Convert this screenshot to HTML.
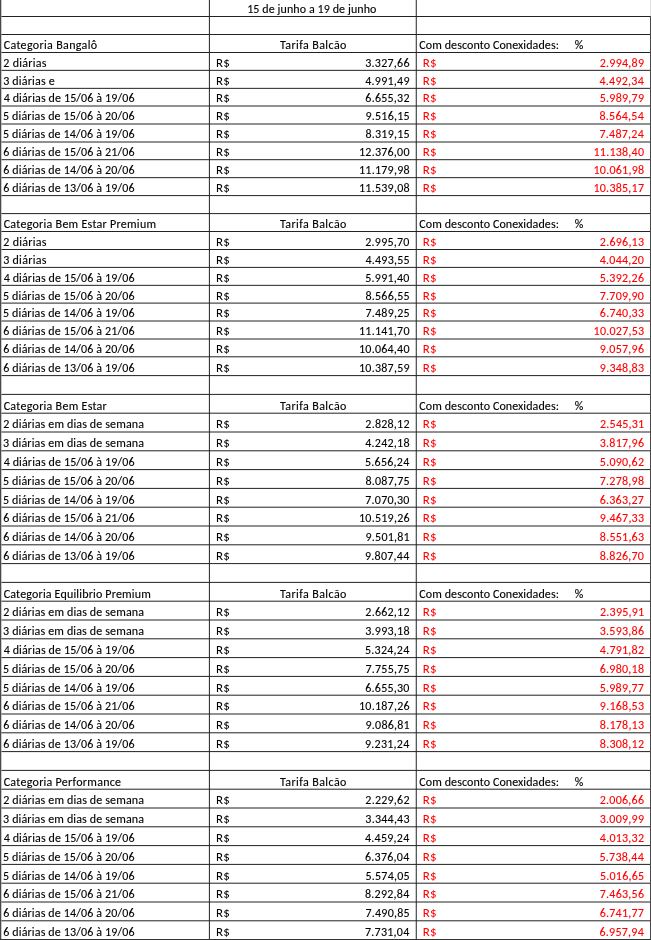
<!DOCTYPE html>
<html><head><meta charset="utf-8"><title>Tarifas</title><style>
html,body{margin:0;padding:0;background:#fff;width:651px;height:940px;overflow:hidden}
svg{display:block;position:absolute;left:0;top:0;will-change:transform}
text{font-family:Carlito,"Liberation Sans",sans-serif;font-size:12.0px;fill:#000;stroke:#000;stroke-width:0.12px}
.r{fill:#f00;stroke:#f00}.s{stroke-width:0}.e{text-anchor:end}.m{text-anchor:middle}
</style></head><body>
<svg width="651" height="940" viewBox="0 0 651 940">
<g stroke="#222" stroke-width="1"><line x1="0" y1="16.5" x2="651" y2="16.5"/><line x1="0" y1="34.5" x2="651" y2="34.5"/><line x1="0" y1="52.5" x2="651" y2="52.5"/><line x1="0" y1="70.35" x2="651" y2="70.35"/><line x1="0" y1="88.35" x2="651" y2="88.35"/><line x1="0" y1="106.0" x2="651" y2="106.0"/><line x1="0" y1="124.0" x2="651" y2="124.0"/><line x1="0" y1="142.0" x2="651" y2="142.0"/><line x1="0" y1="159.7" x2="651" y2="159.7"/><line x1="0" y1="177.65" x2="651" y2="177.65"/><line x1="0" y1="195.6" x2="651" y2="195.6"/><line x1="0" y1="213.6" x2="651" y2="213.6"/><line x1="0" y1="231.5" x2="651" y2="231.5"/><line x1="0" y1="249.5" x2="651" y2="249.5"/><line x1="0" y1="267.4" x2="651" y2="267.4"/><line x1="0" y1="285.35" x2="651" y2="285.35"/><line x1="0" y1="303.1" x2="651" y2="303.1"/><line x1="0" y1="321.0" x2="651" y2="321.0"/><line x1="0" y1="339.0" x2="651" y2="339.0"/><line x1="0" y1="356.8" x2="651" y2="356.8"/><line x1="0" y1="375.6" x2="651" y2="375.6"/><line x1="0" y1="394.4" x2="651" y2="394.4"/><line x1="0" y1="413.2" x2="651" y2="413.2"/><line x1="0" y1="432.0" x2="651" y2="432.0"/><line x1="0" y1="450.8" x2="651" y2="450.8"/><line x1="0" y1="469.6" x2="651" y2="469.6"/><line x1="0" y1="488.4" x2="651" y2="488.4"/><line x1="0" y1="507.2" x2="651" y2="507.2"/><line x1="0" y1="526.0" x2="651" y2="526.0"/><line x1="0" y1="544.8" x2="651" y2="544.8"/><line x1="0" y1="563.6" x2="651" y2="563.6"/><line x1="0" y1="582.4" x2="651" y2="582.4"/><line x1="0" y1="601.2" x2="651" y2="601.2"/><line x1="0" y1="620.0" x2="651" y2="620.0"/><line x1="0" y1="638.8" x2="651" y2="638.8"/><line x1="0" y1="657.6" x2="651" y2="657.6"/><line x1="0" y1="676.4" x2="651" y2="676.4"/><line x1="0" y1="695.2" x2="651" y2="695.2"/><line x1="0" y1="714.0" x2="651" y2="714.0"/><line x1="0" y1="732.8" x2="651" y2="732.8"/><line x1="0" y1="751.6" x2="651" y2="751.6"/><line x1="0" y1="770.4" x2="651" y2="770.4"/><line x1="0" y1="789.2" x2="651" y2="789.2"/><line x1="0" y1="808.0" x2="651" y2="808.0"/><line x1="0" y1="826.8" x2="651" y2="826.8"/><line x1="0" y1="845.6" x2="651" y2="845.6"/><line x1="0" y1="864.4" x2="651" y2="864.4"/><line x1="0" y1="883.2" x2="651" y2="883.2"/><line x1="0" y1="902.0" x2="651" y2="902.0"/><line x1="0" y1="920.8" x2="651" y2="920.8"/><line x1="209.4" y1="0" x2="209.4" y2="940"/><line x1="416.25" y1="0" x2="416.25" y2="940"/></g>
<rect x="0" y="0" width="1" height="940" fill="#484848"/><rect x="1" y="0" width="1" height="940" fill="#a8a8a8" opacity="0.6"/>
<rect x="650" y="0" width="1" height="16" fill="#e0e0e0"/><rect x="650" y="16" width="1" height="924" fill="#484848"/>
<rect x="0" y="939" width="651" height="1" fill="#333"/>
<text class="m" x="311.77" y="12.9" textLength="129.25" lengthAdjust="spacing">15 de junho a 19 de junho</text>
<text x="3.7" y="48.9" textLength="93.38" lengthAdjust="spacing">Categoria Bangalô</text>
<text class="m" x="313.13" y="48.9" textLength="66.45" lengthAdjust="spacing">Tarifa Balcão</text>
<text x="419.3" y="48.9" textLength="139.62" lengthAdjust="spacing">Com desconto Conexidades:</text>
<text x="574.84" y="48.9" textLength="9.74" lengthAdjust="spacing">%</text>
<text x="3.36" y="66.75" textLength="43.04" lengthAdjust="spacing">2 diárias</text>
<text class="s" x="216.08" y="66.75" textLength="13.65" lengthAdjust="spacingAndGlyphs">R$</text>
<text class="e" x="409.49" y="66.75" textLength="44.2" lengthAdjust="spacing">3.327,66</text>
<text class="r s" x="422.88" y="66.75" textLength="13.65" lengthAdjust="spacingAndGlyphs">R$</text>
<text class="r e" x="643.99" y="66.75" textLength="44.2" lengthAdjust="spacing">2.994,89</text>
<text x="3.14" y="84.75" textLength="51.55" lengthAdjust="spacing">3 diárias e</text>
<text class="s" x="216.08" y="84.75" textLength="13.65" lengthAdjust="spacingAndGlyphs">R$</text>
<text class="e" x="409.49" y="84.75" textLength="44.2" lengthAdjust="spacing">4.991,49</text>
<text class="r s" x="422.88" y="84.75" textLength="13.65" lengthAdjust="spacingAndGlyphs">R$</text>
<text class="r e" x="643.74" y="84.75" textLength="44.2" lengthAdjust="spacing">4.492,34</text>
<text x="3.64" y="102.4" textLength="130.89" lengthAdjust="spacing">4 diárias de 15/06 à 19/06</text>
<text class="s" x="216.08" y="102.4" textLength="13.65" lengthAdjust="spacingAndGlyphs">R$</text>
<text class="e" x="409.52" y="102.4" textLength="44.2" lengthAdjust="spacing">6.655,32</text>
<text class="r s" x="422.88" y="102.4" textLength="13.65" lengthAdjust="spacingAndGlyphs">R$</text>
<text class="r e" x="643.99" y="102.4" textLength="44.2" lengthAdjust="spacing">5.989,79</text>
<text x="2.98" y="120.4" textLength="131.55" lengthAdjust="spacing">5 diárias de 15/06 à 20/06</text>
<text class="s" x="216.08" y="120.4" textLength="13.65" lengthAdjust="spacingAndGlyphs">R$</text>
<text class="e" x="409.62" y="120.4" textLength="44.2" lengthAdjust="spacing">9.516,15</text>
<text class="r s" x="422.88" y="120.4" textLength="13.65" lengthAdjust="spacingAndGlyphs">R$</text>
<text class="r e" x="643.74" y="120.4" textLength="44.2" lengthAdjust="spacing">8.564,54</text>
<text x="2.98" y="138.4" textLength="131.55" lengthAdjust="spacing">5 diárias de 14/06 à 19/06</text>
<text class="s" x="216.08" y="138.4" textLength="13.65" lengthAdjust="spacingAndGlyphs">R$</text>
<text class="e" x="409.62" y="138.4" textLength="44.2" lengthAdjust="spacing">8.319,15</text>
<text class="r s" x="422.88" y="138.4" textLength="13.65" lengthAdjust="spacingAndGlyphs">R$</text>
<text class="r e" x="643.74" y="138.4" textLength="44.2" lengthAdjust="spacing">7.487,24</text>
<text x="3.25" y="156.1" textLength="131.28" lengthAdjust="spacing">6 diárias de 15/06 à 21/06</text>
<text class="s" x="216.08" y="156.1" textLength="13.65" lengthAdjust="spacingAndGlyphs">R$</text>
<text class="e" x="409.51" y="156.1" textLength="50.53" lengthAdjust="spacing">12.376,00</text>
<text class="r s" x="422.88" y="156.1" textLength="13.65" lengthAdjust="spacingAndGlyphs">R$</text>
<text class="r e" x="644.01" y="156.1" textLength="50.53" lengthAdjust="spacing">11.138,40</text>
<text x="3.25" y="174.05" textLength="131.28" lengthAdjust="spacing">6 diárias de 14/06 à 20/06</text>
<text class="s" x="216.08" y="174.05" textLength="13.65" lengthAdjust="spacingAndGlyphs">R$</text>
<text class="e" x="409.58" y="174.05" textLength="50.53" lengthAdjust="spacing">11.179,98</text>
<text class="r s" x="422.88" y="174.05" textLength="13.65" lengthAdjust="spacingAndGlyphs">R$</text>
<text class="r e" x="644.08" y="174.05" textLength="50.53" lengthAdjust="spacing">10.061,98</text>
<text x="3.25" y="192" textLength="131.28" lengthAdjust="spacing">6 diárias de 13/06 à 19/06</text>
<text class="s" x="216.08" y="192" textLength="13.65" lengthAdjust="spacingAndGlyphs">R$</text>
<text class="e" x="409.58" y="192" textLength="50.53" lengthAdjust="spacing">11.539,08</text>
<text class="r s" x="422.88" y="192" textLength="13.65" lengthAdjust="spacingAndGlyphs">R$</text>
<text class="r e" x="644" y="192" textLength="50.53" lengthAdjust="spacing">10.385,17</text>
<text x="3.7" y="227.9" textLength="152.36" lengthAdjust="spacing">Categoria Bem Estar Premium</text>
<text class="m" x="313.13" y="227.9" textLength="66.45" lengthAdjust="spacing">Tarifa Balcão</text>
<text x="419.3" y="227.9" textLength="139.62" lengthAdjust="spacing">Com desconto Conexidades:</text>
<text x="574.84" y="227.9" textLength="9.74" lengthAdjust="spacing">%</text>
<text x="3.36" y="245.9" textLength="43.04" lengthAdjust="spacing">2 diárias</text>
<text class="s" x="216.08" y="245.9" textLength="13.65" lengthAdjust="spacingAndGlyphs">R$</text>
<text class="e" x="409.42" y="245.9" textLength="44.2" lengthAdjust="spacing">2.995,70</text>
<text class="r s" x="422.88" y="245.9" textLength="13.65" lengthAdjust="spacingAndGlyphs">R$</text>
<text class="r e" x="644.03" y="245.9" textLength="44.2" lengthAdjust="spacing">2.696,13</text>
<text x="3.14" y="263.8" textLength="43.26" lengthAdjust="spacing">3 diárias</text>
<text class="s" x="216.08" y="263.8" textLength="13.65" lengthAdjust="spacingAndGlyphs">R$</text>
<text class="e" x="409.62" y="263.8" textLength="44.2" lengthAdjust="spacing">4.493,55</text>
<text class="r s" x="422.88" y="263.8" textLength="13.65" lengthAdjust="spacingAndGlyphs">R$</text>
<text class="r e" x="643.92" y="263.8" textLength="44.2" lengthAdjust="spacing">4.044,20</text>
<text x="3.64" y="281.75" textLength="130.89" lengthAdjust="spacing">4 diárias de 15/06 à 19/06</text>
<text class="s" x="216.08" y="281.75" textLength="13.65" lengthAdjust="spacingAndGlyphs">R$</text>
<text class="e" x="409.42" y="281.75" textLength="44.2" lengthAdjust="spacing">5.991,40</text>
<text class="r s" x="422.88" y="281.75" textLength="13.65" lengthAdjust="spacingAndGlyphs">R$</text>
<text class="r e" x="643.99" y="281.75" textLength="44.2" lengthAdjust="spacing">5.392,26</text>
<text x="2.98" y="299.5" textLength="131.55" lengthAdjust="spacing">5 diárias de 15/06 à 20/06</text>
<text class="s" x="216.08" y="299.5" textLength="13.65" lengthAdjust="spacingAndGlyphs">R$</text>
<text class="e" x="409.62" y="299.5" textLength="44.2" lengthAdjust="spacing">8.566,55</text>
<text class="r s" x="422.88" y="299.5" textLength="13.65" lengthAdjust="spacingAndGlyphs">R$</text>
<text class="r e" x="643.92" y="299.5" textLength="44.2" lengthAdjust="spacing">7.709,90</text>
<text x="2.98" y="317.4" textLength="131.55" lengthAdjust="spacing">5 diárias de 14/06 à 19/06</text>
<text class="s" x="216.08" y="317.4" textLength="13.65" lengthAdjust="spacingAndGlyphs">R$</text>
<text class="e" x="409.62" y="317.4" textLength="44.2" lengthAdjust="spacing">7.489,25</text>
<text class="r s" x="422.88" y="317.4" textLength="13.65" lengthAdjust="spacingAndGlyphs">R$</text>
<text class="r e" x="644.03" y="317.4" textLength="44.2" lengthAdjust="spacing">6.740,33</text>
<text x="3.25" y="335.4" textLength="131.28" lengthAdjust="spacing">6 diárias de 15/06 à 21/06</text>
<text class="s" x="216.08" y="335.4" textLength="13.65" lengthAdjust="spacingAndGlyphs">R$</text>
<text class="e" x="409.51" y="335.4" textLength="50.53" lengthAdjust="spacing">11.141,70</text>
<text class="r s" x="422.88" y="335.4" textLength="13.65" lengthAdjust="spacingAndGlyphs">R$</text>
<text class="r e" x="644.12" y="335.4" textLength="50.53" lengthAdjust="spacing">10.027,53</text>
<text x="3.25" y="353.2" textLength="131.28" lengthAdjust="spacing">6 diárias de 14/06 à 20/06</text>
<text class="s" x="216.08" y="353.2" textLength="13.65" lengthAdjust="spacingAndGlyphs">R$</text>
<text class="e" x="409.51" y="353.2" textLength="50.53" lengthAdjust="spacing">10.064,40</text>
<text class="r s" x="422.88" y="353.2" textLength="13.65" lengthAdjust="spacingAndGlyphs">R$</text>
<text class="r e" x="643.99" y="353.2" textLength="44.2" lengthAdjust="spacing">9.057,96</text>
<text x="3.25" y="372" textLength="131.28" lengthAdjust="spacing">6 diárias de 13/06 à 19/06</text>
<text class="s" x="216.08" y="372" textLength="13.65" lengthAdjust="spacingAndGlyphs">R$</text>
<text class="e" x="409.58" y="372" textLength="50.53" lengthAdjust="spacing">10.387,59</text>
<text class="r s" x="422.88" y="372" textLength="13.65" lengthAdjust="spacingAndGlyphs">R$</text>
<text class="r e" x="644.03" y="372" textLength="44.2" lengthAdjust="spacing">9.348,83</text>
<text x="3.7" y="409.6" textLength="103.11" lengthAdjust="spacing">Categoria Bem Estar</text>
<text class="m" x="313.13" y="409.6" textLength="66.45" lengthAdjust="spacing">Tarifa Balcão</text>
<text x="419.3" y="409.6" textLength="139.62" lengthAdjust="spacing">Com desconto Conexidades:</text>
<text x="574.84" y="409.6" textLength="9.74" lengthAdjust="spacing">%</text>
<text x="3.26" y="428.4" textLength="140.74" lengthAdjust="spacing">2 diárias em dias de semana</text>
<text class="s" x="216.08" y="428.4" textLength="13.65" lengthAdjust="spacingAndGlyphs">R$</text>
<text class="e" x="409.52" y="428.4" textLength="44.2" lengthAdjust="spacing">2.828,12</text>
<text class="r s" x="422.88" y="428.4" textLength="13.65" lengthAdjust="spacingAndGlyphs">R$</text>
<text class="r e" x="644.18" y="428.4" textLength="44.2" lengthAdjust="spacing">2.545,31</text>
<text x="3.04" y="447.2" textLength="140.97" lengthAdjust="spacing">3 diárias em dias de semana</text>
<text class="s" x="216.08" y="447.2" textLength="13.65" lengthAdjust="spacingAndGlyphs">R$</text>
<text class="e" x="409.48" y="447.2" textLength="44.2" lengthAdjust="spacing">4.242,18</text>
<text class="r s" x="422.88" y="447.2" textLength="13.65" lengthAdjust="spacingAndGlyphs">R$</text>
<text class="r e" x="643.99" y="447.2" textLength="44.2" lengthAdjust="spacing">3.817,96</text>
<text x="3.64" y="466" textLength="130.89" lengthAdjust="spacing">4 diárias de 15/06 à 19/06</text>
<text class="s" x="216.08" y="466" textLength="13.65" lengthAdjust="spacingAndGlyphs">R$</text>
<text class="e" x="409.24" y="466" textLength="44.2" lengthAdjust="spacing">5.656,24</text>
<text class="r s" x="422.88" y="466" textLength="13.65" lengthAdjust="spacingAndGlyphs">R$</text>
<text class="r e" x="644.02" y="466" textLength="44.2" lengthAdjust="spacing">5.090,62</text>
<text x="2.98" y="484.8" textLength="131.55" lengthAdjust="spacing">5 diárias de 15/06 à 20/06</text>
<text class="s" x="216.08" y="484.8" textLength="13.65" lengthAdjust="spacingAndGlyphs">R$</text>
<text class="e" x="409.62" y="484.8" textLength="44.2" lengthAdjust="spacing">8.087,75</text>
<text class="r s" x="422.88" y="484.8" textLength="13.65" lengthAdjust="spacingAndGlyphs">R$</text>
<text class="r e" x="643.98" y="484.8" textLength="44.2" lengthAdjust="spacing">7.278,98</text>
<text x="2.98" y="503.6" textLength="131.55" lengthAdjust="spacing">5 diárias de 14/06 à 19/06</text>
<text class="s" x="216.08" y="503.6" textLength="13.65" lengthAdjust="spacingAndGlyphs">R$</text>
<text class="e" x="409.42" y="503.6" textLength="44.2" lengthAdjust="spacing">7.070,30</text>
<text class="r s" x="422.88" y="503.6" textLength="13.65" lengthAdjust="spacingAndGlyphs">R$</text>
<text class="r e" x="643.91" y="503.6" textLength="44.2" lengthAdjust="spacing">6.363,27</text>
<text x="3.25" y="522.4" textLength="131.28" lengthAdjust="spacing">6 diárias de 15/06 à 21/06</text>
<text class="s" x="216.08" y="522.4" textLength="13.65" lengthAdjust="spacingAndGlyphs">R$</text>
<text class="e" x="409.58" y="522.4" textLength="50.53" lengthAdjust="spacing">10.519,26</text>
<text class="r s" x="422.88" y="522.4" textLength="13.65" lengthAdjust="spacingAndGlyphs">R$</text>
<text class="r e" x="644.03" y="522.4" textLength="44.2" lengthAdjust="spacing">9.467,33</text>
<text x="3.25" y="541.2" textLength="131.28" lengthAdjust="spacing">6 diárias de 14/06 à 20/06</text>
<text class="s" x="216.08" y="541.2" textLength="13.65" lengthAdjust="spacingAndGlyphs">R$</text>
<text class="e" x="409.68" y="541.2" textLength="44.2" lengthAdjust="spacing">9.501,81</text>
<text class="r s" x="422.88" y="541.2" textLength="13.65" lengthAdjust="spacingAndGlyphs">R$</text>
<text class="r e" x="644.03" y="541.2" textLength="44.2" lengthAdjust="spacing">8.551,63</text>
<text x="3.25" y="560" textLength="131.28" lengthAdjust="spacing">6 diárias de 13/06 à 19/06</text>
<text class="s" x="216.08" y="560" textLength="13.65" lengthAdjust="spacingAndGlyphs">R$</text>
<text class="e" x="409.24" y="560" textLength="44.2" lengthAdjust="spacing">9.807,44</text>
<text class="r s" x="422.88" y="560" textLength="13.65" lengthAdjust="spacingAndGlyphs">R$</text>
<text class="r e" x="643.92" y="560" textLength="44.2" lengthAdjust="spacing">8.826,70</text>
<text x="3.7" y="597.6" textLength="147.16" lengthAdjust="spacing">Categoria Equilibrio Premium</text>
<text class="m" x="313.13" y="597.6" textLength="66.45" lengthAdjust="spacing">Tarifa Balcão</text>
<text x="419.3" y="597.6" textLength="139.62" lengthAdjust="spacing">Com desconto Conexidades:</text>
<text x="574.84" y="597.6" textLength="9.74" lengthAdjust="spacing">%</text>
<text x="3.26" y="616.4" textLength="140.74" lengthAdjust="spacing">2 diárias em dias de semana</text>
<text class="s" x="216.08" y="616.4" textLength="13.65" lengthAdjust="spacingAndGlyphs">R$</text>
<text class="e" x="409.52" y="616.4" textLength="44.2" lengthAdjust="spacing">2.662,12</text>
<text class="r s" x="422.88" y="616.4" textLength="13.65" lengthAdjust="spacingAndGlyphs">R$</text>
<text class="r e" x="644.18" y="616.4" textLength="44.2" lengthAdjust="spacing">2.395,91</text>
<text x="3.04" y="635.2" textLength="140.97" lengthAdjust="spacing">3 diárias em dias de semana</text>
<text class="s" x="216.08" y="635.2" textLength="13.65" lengthAdjust="spacingAndGlyphs">R$</text>
<text class="e" x="409.48" y="635.2" textLength="44.2" lengthAdjust="spacing">3.993,18</text>
<text class="r s" x="422.88" y="635.2" textLength="13.65" lengthAdjust="spacingAndGlyphs">R$</text>
<text class="r e" x="643.99" y="635.2" textLength="44.2" lengthAdjust="spacing">3.593,86</text>
<text x="3.64" y="654" textLength="130.89" lengthAdjust="spacing">4 diárias de 15/06 à 19/06</text>
<text class="s" x="216.08" y="654" textLength="13.65" lengthAdjust="spacingAndGlyphs">R$</text>
<text class="e" x="409.24" y="654" textLength="44.2" lengthAdjust="spacing">5.324,24</text>
<text class="r s" x="422.88" y="654" textLength="13.65" lengthAdjust="spacingAndGlyphs">R$</text>
<text class="r e" x="644.02" y="654" textLength="44.2" lengthAdjust="spacing">4.791,82</text>
<text x="2.98" y="672.8" textLength="131.55" lengthAdjust="spacing">5 diárias de 15/06 à 20/06</text>
<text class="s" x="216.08" y="672.8" textLength="13.65" lengthAdjust="spacingAndGlyphs">R$</text>
<text class="e" x="409.62" y="672.8" textLength="44.2" lengthAdjust="spacing">7.755,75</text>
<text class="r s" x="422.88" y="672.8" textLength="13.65" lengthAdjust="spacingAndGlyphs">R$</text>
<text class="r e" x="643.98" y="672.8" textLength="44.2" lengthAdjust="spacing">6.980,18</text>
<text x="2.98" y="691.6" textLength="131.55" lengthAdjust="spacing">5 diárias de 14/06 à 19/06</text>
<text class="s" x="216.08" y="691.6" textLength="13.65" lengthAdjust="spacingAndGlyphs">R$</text>
<text class="e" x="409.42" y="691.6" textLength="44.2" lengthAdjust="spacing">6.655,30</text>
<text class="r s" x="422.88" y="691.6" textLength="13.65" lengthAdjust="spacingAndGlyphs">R$</text>
<text class="r e" x="643.91" y="691.6" textLength="44.2" lengthAdjust="spacing">5.989,77</text>
<text x="3.25" y="710.4" textLength="131.28" lengthAdjust="spacing">6 diárias de 15/06 à 21/06</text>
<text class="s" x="216.08" y="710.4" textLength="13.65" lengthAdjust="spacingAndGlyphs">R$</text>
<text class="e" x="409.58" y="710.4" textLength="50.53" lengthAdjust="spacing">10.187,26</text>
<text class="r s" x="422.88" y="710.4" textLength="13.65" lengthAdjust="spacingAndGlyphs">R$</text>
<text class="r e" x="644.03" y="710.4" textLength="44.2" lengthAdjust="spacing">9.168,53</text>
<text x="3.25" y="729.2" textLength="131.28" lengthAdjust="spacing">6 diárias de 14/06 à 20/06</text>
<text class="s" x="216.08" y="729.2" textLength="13.65" lengthAdjust="spacingAndGlyphs">R$</text>
<text class="e" x="409.68" y="729.2" textLength="44.2" lengthAdjust="spacing">9.086,81</text>
<text class="r s" x="422.88" y="729.2" textLength="13.65" lengthAdjust="spacingAndGlyphs">R$</text>
<text class="r e" x="644.03" y="729.2" textLength="44.2" lengthAdjust="spacing">8.178,13</text>
<text x="3.25" y="748" textLength="131.28" lengthAdjust="spacing">6 diárias de 13/06 à 19/06</text>
<text class="s" x="216.08" y="748" textLength="13.65" lengthAdjust="spacingAndGlyphs">R$</text>
<text class="e" x="409.24" y="748" textLength="44.2" lengthAdjust="spacing">9.231,24</text>
<text class="r s" x="422.88" y="748" textLength="13.65" lengthAdjust="spacingAndGlyphs">R$</text>
<text class="r e" x="644.02" y="748" textLength="44.2" lengthAdjust="spacing">8.308,12</text>
<text x="3.7" y="785.6" textLength="117.37" lengthAdjust="spacing">Categoria Performance</text>
<text class="m" x="313.13" y="785.6" textLength="66.45" lengthAdjust="spacing">Tarifa Balcão</text>
<text x="419.3" y="785.6" textLength="139.62" lengthAdjust="spacing">Com desconto Conexidades:</text>
<text x="574.84" y="785.6" textLength="9.74" lengthAdjust="spacing">%</text>
<text x="3.26" y="804.4" textLength="140.74" lengthAdjust="spacing">2 diárias em dias de semana</text>
<text class="s" x="216.08" y="804.4" textLength="13.65" lengthAdjust="spacingAndGlyphs">R$</text>
<text class="e" x="409.52" y="804.4" textLength="44.2" lengthAdjust="spacing">2.229,62</text>
<text class="r s" x="422.88" y="804.4" textLength="13.65" lengthAdjust="spacingAndGlyphs">R$</text>
<text class="r e" x="643.99" y="804.4" textLength="44.2" lengthAdjust="spacing">2.006,66</text>
<text x="3.04" y="823.2" textLength="140.97" lengthAdjust="spacing">3 diárias em dias de semana</text>
<text class="s" x="216.08" y="823.2" textLength="13.65" lengthAdjust="spacingAndGlyphs">R$</text>
<text class="e" x="409.53" y="823.2" textLength="44.2" lengthAdjust="spacing">3.344,43</text>
<text class="r s" x="422.88" y="823.2" textLength="13.65" lengthAdjust="spacingAndGlyphs">R$</text>
<text class="r e" x="643.99" y="823.2" textLength="44.2" lengthAdjust="spacing">3.009,99</text>
<text x="3.64" y="842" textLength="130.89" lengthAdjust="spacing">4 diárias de 15/06 à 19/06</text>
<text class="s" x="216.08" y="842" textLength="13.65" lengthAdjust="spacingAndGlyphs">R$</text>
<text class="e" x="409.24" y="842" textLength="44.2" lengthAdjust="spacing">4.459,24</text>
<text class="r s" x="422.88" y="842" textLength="13.65" lengthAdjust="spacingAndGlyphs">R$</text>
<text class="r e" x="644.02" y="842" textLength="44.2" lengthAdjust="spacing">4.013,32</text>
<text x="2.98" y="860.8" textLength="131.55" lengthAdjust="spacing">5 diárias de 15/06 à 20/06</text>
<text class="s" x="216.08" y="860.8" textLength="13.65" lengthAdjust="spacingAndGlyphs">R$</text>
<text class="e" x="409.24" y="860.8" textLength="44.2" lengthAdjust="spacing">6.376,04</text>
<text class="r s" x="422.88" y="860.8" textLength="13.65" lengthAdjust="spacingAndGlyphs">R$</text>
<text class="r e" x="643.74" y="860.8" textLength="44.2" lengthAdjust="spacing">5.738,44</text>
<text x="2.98" y="879.6" textLength="131.55" lengthAdjust="spacing">5 diárias de 14/06 à 19/06</text>
<text class="s" x="216.08" y="879.6" textLength="13.65" lengthAdjust="spacingAndGlyphs">R$</text>
<text class="e" x="409.62" y="879.6" textLength="44.2" lengthAdjust="spacing">5.574,05</text>
<text class="r s" x="422.88" y="879.6" textLength="13.65" lengthAdjust="spacingAndGlyphs">R$</text>
<text class="r e" x="644.12" y="879.6" textLength="44.2" lengthAdjust="spacing">5.016,65</text>
<text x="3.25" y="898.4" textLength="131.28" lengthAdjust="spacing">6 diárias de 15/06 à 21/06</text>
<text class="s" x="216.08" y="898.4" textLength="13.65" lengthAdjust="spacingAndGlyphs">R$</text>
<text class="e" x="409.24" y="898.4" textLength="44.2" lengthAdjust="spacing">8.292,84</text>
<text class="r s" x="422.88" y="898.4" textLength="13.65" lengthAdjust="spacingAndGlyphs">R$</text>
<text class="r e" x="643.99" y="898.4" textLength="44.2" lengthAdjust="spacing">7.463,56</text>
<text x="3.25" y="917.2" textLength="131.28" lengthAdjust="spacing">6 diárias de 14/06 à 20/06</text>
<text class="s" x="216.08" y="917.2" textLength="13.65" lengthAdjust="spacingAndGlyphs">R$</text>
<text class="e" x="409.62" y="917.2" textLength="44.2" lengthAdjust="spacing">7.490,85</text>
<text class="r s" x="422.88" y="917.2" textLength="13.65" lengthAdjust="spacingAndGlyphs">R$</text>
<text class="r e" x="643.91" y="917.2" textLength="44.2" lengthAdjust="spacing">6.741,77</text>
<text x="3.25" y="936" textLength="131.28" lengthAdjust="spacing">6 diárias de 13/06 à 19/06</text>
<text class="s" x="216.08" y="936" textLength="13.65" lengthAdjust="spacingAndGlyphs">R$</text>
<text class="e" x="409.24" y="936" textLength="44.2" lengthAdjust="spacing">7.731,04</text>
<text class="r s" x="422.88" y="936" textLength="13.65" lengthAdjust="spacingAndGlyphs">R$</text>
<text class="r e" x="643.74" y="936" textLength="44.2" lengthAdjust="spacing">6.957,94</text>
</svg></body></html>
